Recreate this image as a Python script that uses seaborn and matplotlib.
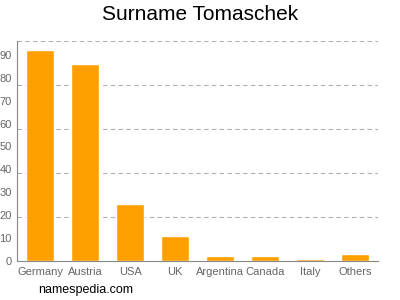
import numpy as np
import pandas as pd
import seaborn as sns
import matplotlib.pyplot as plt

# data
countries = ["Germany", "Austria", "USA", "UK", "Argentina", "Canada", "Italy", "Others"]
counts = [92, 86, 25, 11, 2, 2, 1, 3]

df = pd.DataFrame({"country": countries, "count": counts})

sns.set_style("white")
plt.rcParams['font.family'] = ['Liberation Sans', 'DejaVu Sans']

fig = plt.figure(figsize=(4, 3), dpi=100)
ax = fig.add_axes([0.043, 0.13, 0.902, 0.733])

sns.barplot(data=df, x="country", y="count", color="#FFA000", width=0.62,
            saturation=1, ax=ax)

ax.set_ylim(0, 96)
ax.set_xlim(-0.51, 7.51)
ax.set_yticks(range(0, 100, 10))
ax.set_yticks(np.linspace(0, 96, 6), minor=True)
ax.yaxis.grid(True, which="minor", linestyle=(0, (4, 3)), color="#b0b0b0", linewidth=0.8)
ax.yaxis.grid(False, which="major")
ax.set_axisbelow(True)
ax.tick_params(axis="y", which="minor", length=0)
ax.tick_params(axis="both", which="major", labelsize=8, colors="#888888", length=3,
               width=0.8, pad=1)
ax.tick_params(axis="both", labelcolor="#666666")

for side in ["top", "right"]:
    ax.spines[side].set_visible(False)
for side in ["left", "bottom"]:
    ax.spines[side].set_color("#888888")
    ax.spines[side].set_linewidth(0.8)

ax.set_xlabel("")
ax.set_ylabel("")

fig.text(0.5, 0.95, "Surname Tomaschek", ha="center", va="center", fontsize=15, color="black")
fig.text(0.095, 0.035, "namespedia.com", ha="left", va="center", fontsize=9, color="black")

fig.savefig("out.png", dpi=100)
